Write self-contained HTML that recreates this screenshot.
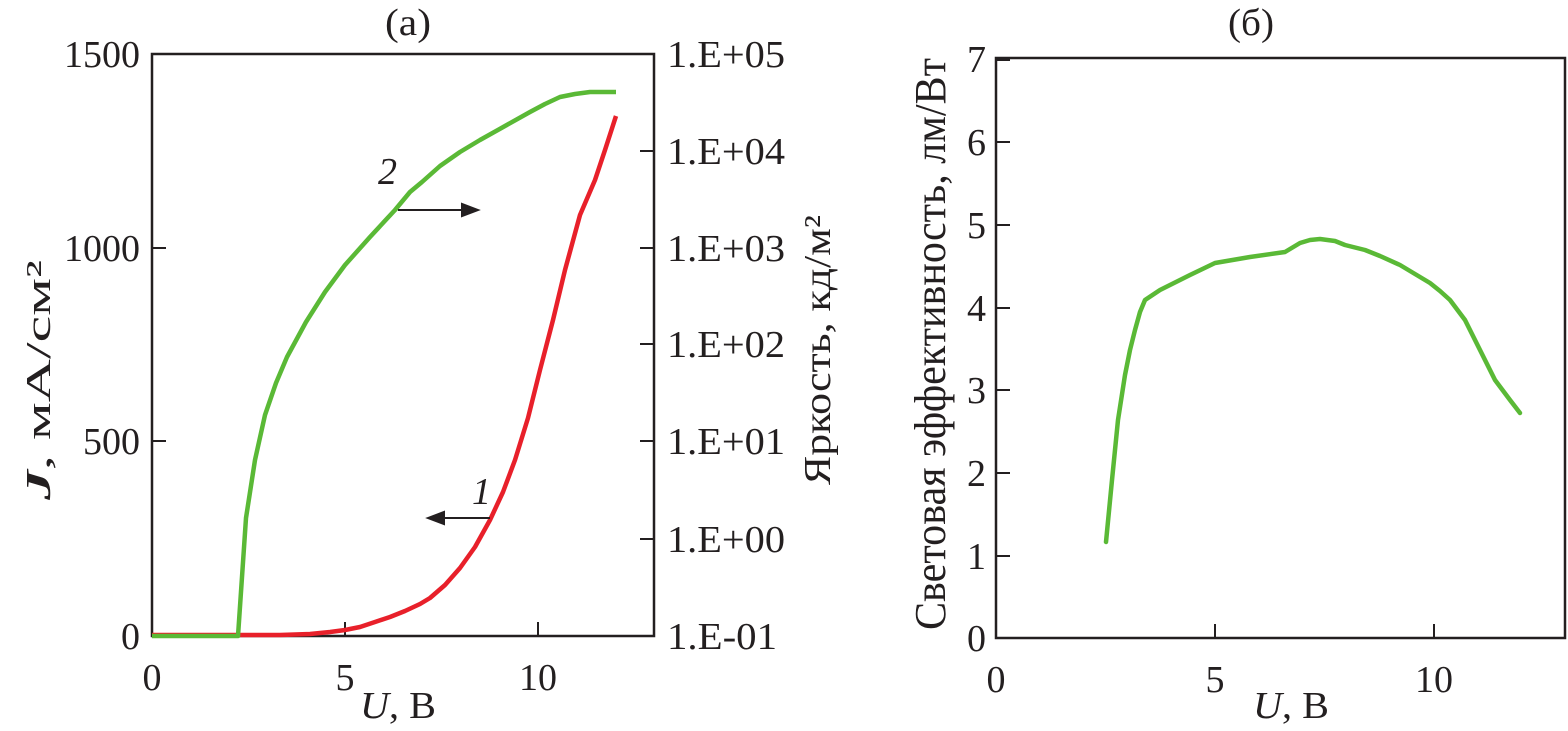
<!DOCTYPE html>
<html><head><meta charset="utf-8"><style>
html,body{margin:0;padding:0;background:#fff}
svg{display:block}
text{font-family:"Liberation Serif",serif;fill:#231f20}
</style></head><body>
<svg width="1568" height="731" viewBox="0 0 1568 731" xmlns="http://www.w3.org/2000/svg">
<g font-size="38">
<!-- Left panel -->
<text x="385" y="35" textLength="46" lengthAdjust="spacingAndGlyphs">(а)</text>
<rect x="152" y="54" width="502" height="582" fill="none" stroke="#231f20" stroke-width="2.5"/>
<g stroke="#231f20" stroke-width="2">
<line x1="152" y1="441" x2="166" y2="441"/><line x1="152" y1="248" x2="166" y2="248"/>
<line x1="345" y1="636" x2="345" y2="622"/><line x1="538" y1="636" x2="538" y2="622"/>
<line x1="654" y1="539" x2="640" y2="539"/><line x1="654" y1="441" x2="640" y2="441"/>
<line x1="654" y1="344" x2="640" y2="344"/><line x1="654" y1="248" x2="640" y2="248"/>
<line x1="654" y1="151" x2="640" y2="151"/>
</g>
<g text-anchor="end">
<text x="140" y="649">0</text><text x="140" y="454">500</text>
<text x="140" y="261">1000</text><text x="140" y="67">1500</text>
</g>
<g text-anchor="middle">
<text x="152" y="690">0</text><text x="345" y="690">5</text><text x="538" y="690">10</text>
</g>
<g>
<text x="667" y="67" textLength="118" lengthAdjust="spacingAndGlyphs">1.E+05</text>
<text x="667" y="164" textLength="118" lengthAdjust="spacingAndGlyphs">1.E+04</text>
<text x="667" y="261" textLength="118" lengthAdjust="spacingAndGlyphs">1.E+03</text>
<text x="667" y="357" textLength="118" lengthAdjust="spacingAndGlyphs">1.E+02</text>
<text x="667" y="454" textLength="118" lengthAdjust="spacingAndGlyphs">1.E+01</text>
<text x="667" y="552" textLength="118" lengthAdjust="spacingAndGlyphs">1.E+00</text>
<text x="667" y="649" textLength="110" lengthAdjust="spacingAndGlyphs">1.E-01</text>
</g>
<text x="360" y="718" textLength="76" lengthAdjust="spacingAndGlyphs"><tspan font-style="italic">U</tspan>, В</text>
<text transform="translate(50,500) rotate(-90)" font-size="35" textLength="240" lengthAdjust="spacingAndGlyphs"><tspan font-style="italic" font-weight="bold">J</tspan>, мА/см²</text>
<text transform="translate(830,485) rotate(-90)" textLength="270" lengthAdjust="spacingAndGlyphs">Яркость, кд/м²</text>
<polyline fill="none" stroke="#e8202a" stroke-width="4.5" stroke-linejoin="round" points="152,635 280,635 310,634 330,632 345,630 360,627 375,622 390,617 405,611 420,604 430,598 445,585 460,568 475,547 490,520 503,492 515,460 528,418 540,370 553,320 565,270 580,215 595,180 605,150 616,116"/>
<polyline fill="none" stroke="#5ab936" stroke-width="4.5" stroke-linejoin="round" points="152,636 238,636 246,518 255,460 265,415 276,383 287,357 306,322 325,292 345,265 370,237 395,210 410,192 422,182 440,166 460,152 480,140 505,126 530,112 545,104 560,97 575,94 590,92 616,92"/>
<text x="378" y="184" font-style="italic">2</text>
<text x="472" y="504" font-style="italic">1</text>
<g stroke="#231f20" stroke-width="2" fill="#231f20">
<line x1="398" y1="210" x2="466" y2="210"/><polygon points="478,210 462,204 462,216"/>
<line x1="490" y1="518" x2="440" y2="518"/><polygon points="428,518 444,512 444,524"/>
</g>
<!-- Right panel -->
<text x="1228" y="35" textLength="46" lengthAdjust="spacingAndGlyphs">(б)</text>
<rect x="996" y="58" width="569" height="580" fill="none" stroke="#231f20" stroke-width="2.5"/>
<g stroke="#231f20" stroke-width="2">
<line x1="996" y1="556" x2="1010" y2="556"/><line x1="996" y1="473" x2="1010" y2="473"/>
<line x1="996" y1="390" x2="1010" y2="390"/><line x1="996" y1="308" x2="1010" y2="308"/>
<line x1="996" y1="225" x2="1010" y2="225"/><line x1="996" y1="142" x2="1010" y2="142"/>
<line x1="996" y1="60" x2="1010" y2="60"/>
<line x1="1215" y1="638" x2="1215" y2="624"/><line x1="1434" y1="638" x2="1434" y2="624"/>
</g>
<g text-anchor="end">
<text x="986" y="651">0</text><text x="986" y="569">1</text><text x="986" y="486">2</text>
<text x="986" y="403">3</text><text x="986" y="321">4</text><text x="986" y="238">5</text>
<text x="986" y="155">6</text><text x="986" y="72">7</text>
</g>
<g text-anchor="middle">
<text x="996" y="692">0</text><text x="1215" y="692">5</text><text x="1434" y="692">10</text>
</g>
<text x="1253" y="718" textLength="76" lengthAdjust="spacingAndGlyphs"><tspan font-style="italic">U</tspan>, В</text>
<text transform="translate(945,630) rotate(-90)" font-size="44" textLength="572" lengthAdjust="spacingAndGlyphs">Световая эффективность, лм/Вт</text>
<polyline fill="none" stroke="#5ab936" stroke-width="4.5" stroke-linejoin="round" stroke-linecap="round" points="1106,542 1112,480 1118,420 1125,375 1130,350 1135,330 1140,312 1145,300 1160,290 1190,275 1215,263 1250,257 1285,252 1300,243 1310,240 1320,239 1335,241 1345,245 1365,250 1380,256 1400,265 1430,283 1440,291 1450,300 1465,320 1480,350 1495,380 1510,400 1520,413"/>
</g>
</svg>
</body></html>
